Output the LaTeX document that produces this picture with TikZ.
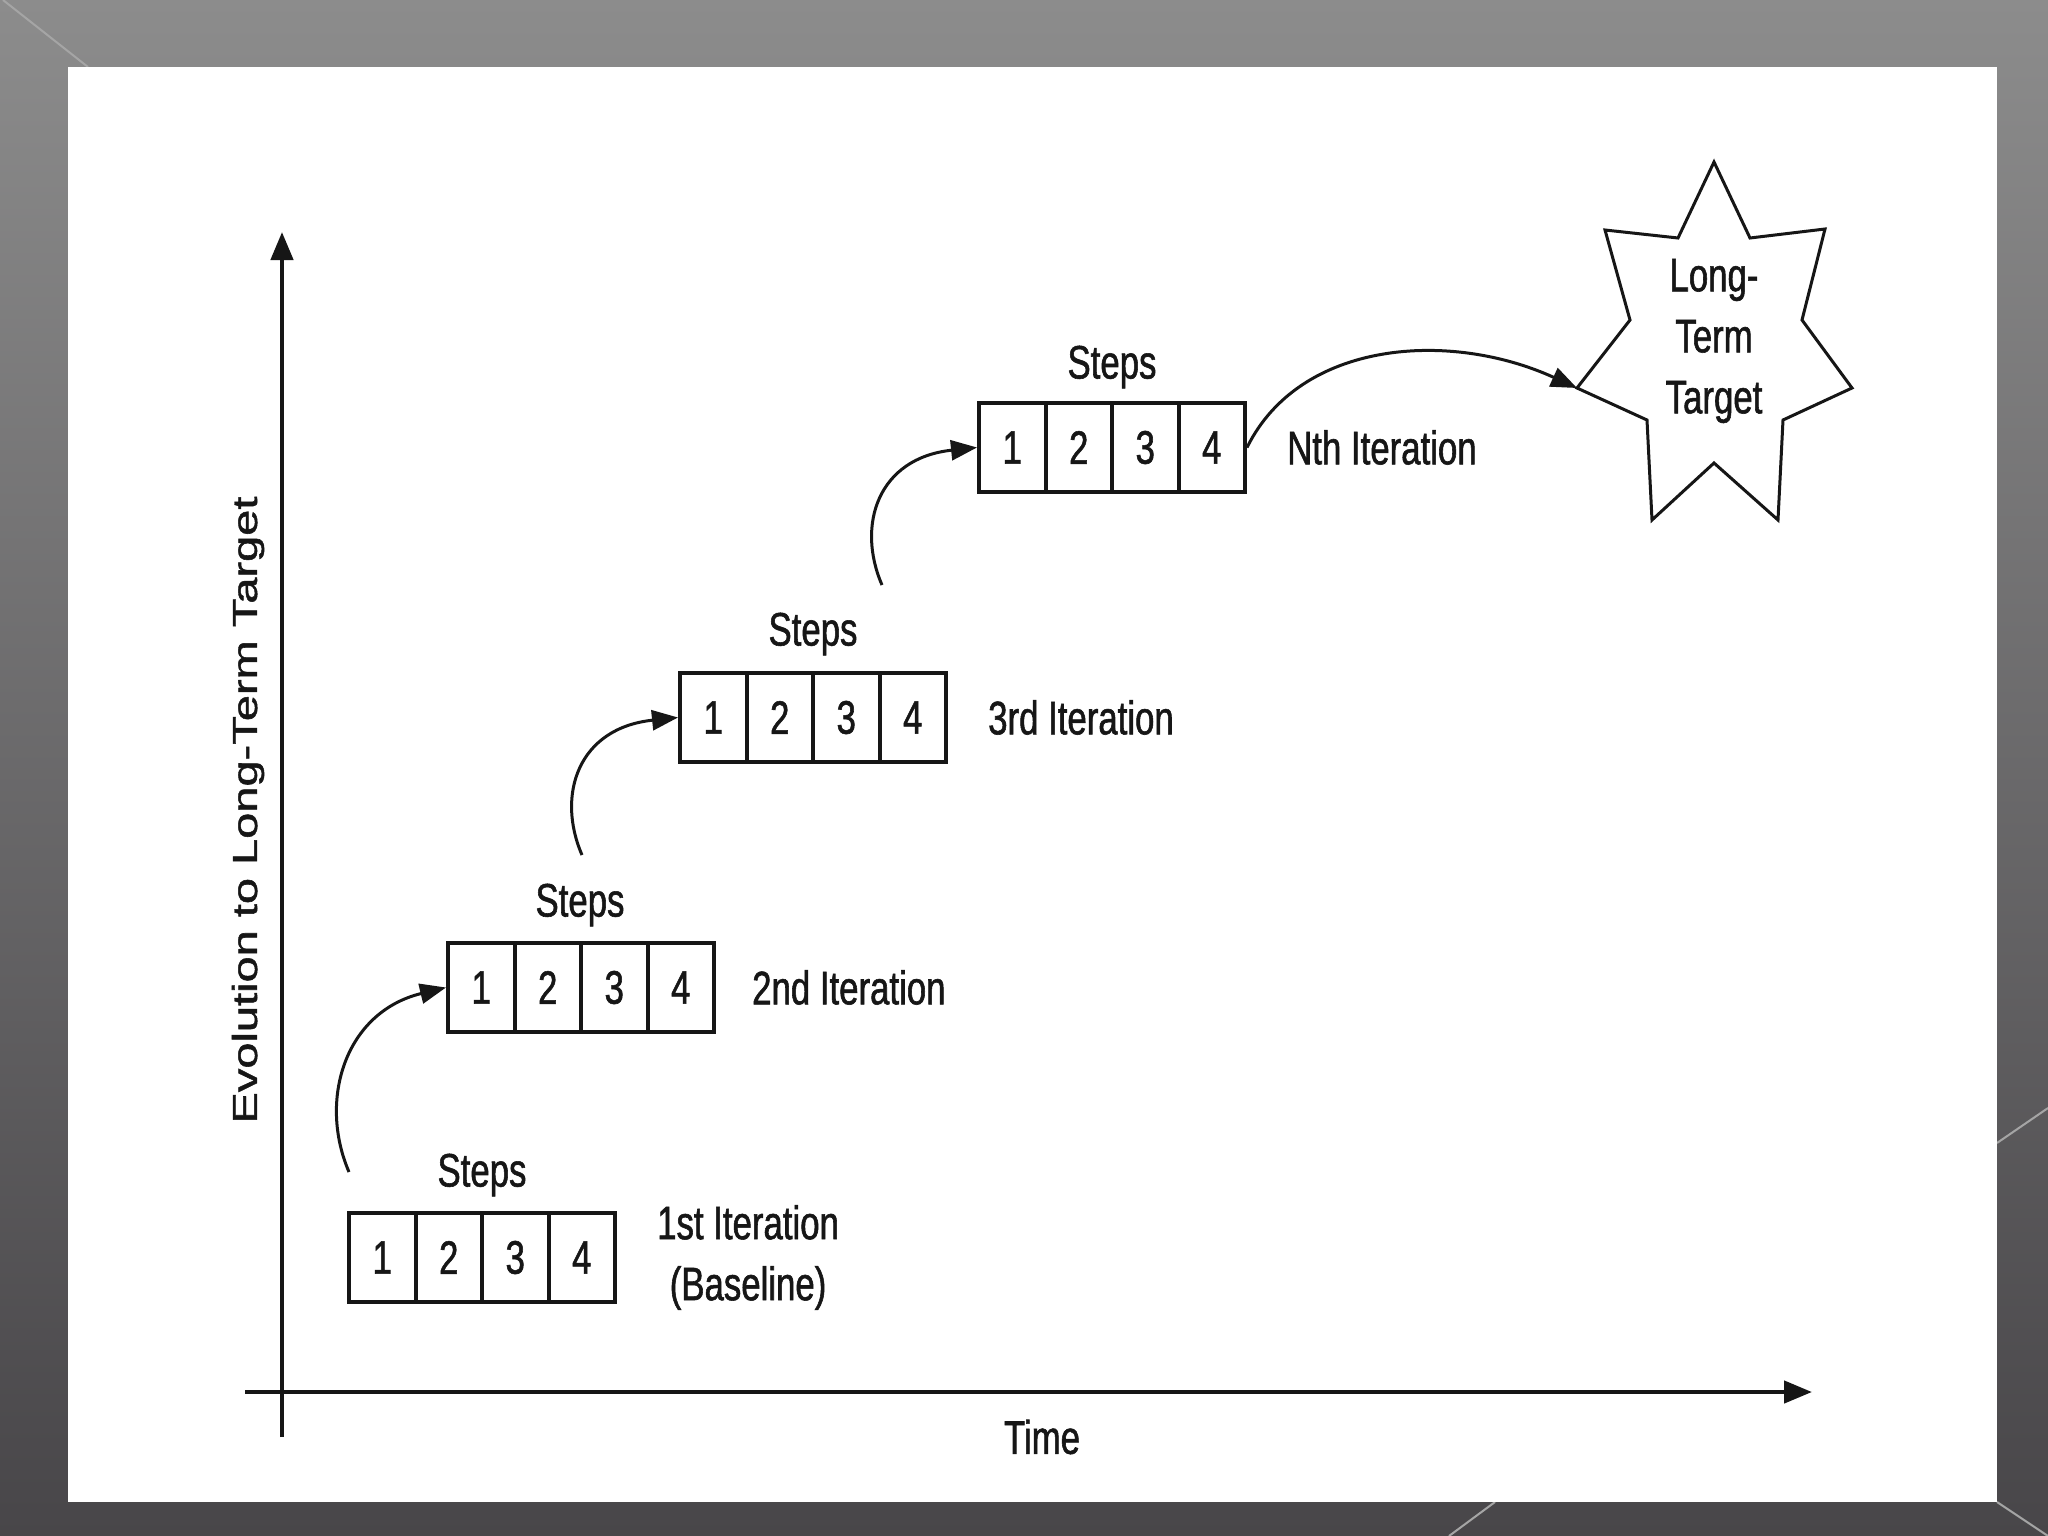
\documentclass[tikz,border=0pt]{standalone}
\usepackage{fontspec}
\setmainfont{Liberation Sans}[FakeStretch=0.74,FakeBold=1.2]
\newfontfamily\plainfont{Liberation Sans}[FakeBold=1.2]
\usetikzlibrary{arrows.meta}
\definecolor{bgtop}{RGB}{140,140,140}
\definecolor{bgbot}{RGB}{72,70,73}
\definecolor{decogray}{RGB}{165,165,165}
\definecolor{ink}{RGB}{22,22,22}
\begin{document}
\begin{tikzpicture}[x=1pt,y=-1pt,
  lbl/.style={font=\fontsize{47pt}{58pt}\selectfont, inner sep=0pt, text=ink},
  cellbox/.style={draw=ink, line width=4pt, minimum width=66.5pt, minimum height=89pt,
    inner sep=0pt, fill=white, text=ink, font=\fontsize{47pt}{58pt}\selectfont},
  axisline/.style={draw=ink, line width=4.5pt, -{Triangle[length=28pt,width=22pt]}},
  curvearrow/.style={draw=ink, line width=3pt, -{Triangle[length=26pt,width=20pt]}},
  decoline/.style={draw=decogray, line width=2pt},
  starshape/.style={draw=ink, line width=3pt, fill=white, line join=miter}]
\useasboundingbox (0,0) rectangle (2048,1536);
% background
\shade[top color=bgtop, bottom color=bgbot] (0,0) rectangle (2048,1536);
\draw[decoline] (3,0) -- (88,67);
\draw[decoline] (1997,1143) -- (2048,1108);
\draw[decoline] (1997,1502) -- (2048,1536);
\draw[decoline] (1495,1502) -- (1449,1536);
\fill[white] (68,67) rectangle (1997,1502);

% axes
\coordinate (yb) at (282,1437);
\coordinate (yt) at (282,232);
\coordinate (xl) at (245,1392);
\coordinate (xr) at (1812,1392);
\draw[axisline] (yb) -- (yt);
\draw[axisline] (xl) -- (xr);
\node[lbl] (ylab) at (248,810) {\rotatebox{90}{\scalebox{1}[0.74]{\plainfont Evolution to Long-Term Target}}};
\node[lbl] (time) at (1042,1437) {Time};

% step boxes
\foreach \r/\x/\y in {1/349/1213, 2/448/943, 3/680/673, 4/979/403} {
  \foreach \c in {1,...,4} {
    \node[cellbox] (r\r-\c) at ({\x+66.5*(\c-0.5)}, {\y+44.5}) {\c};
  }
}

% Steps labels
\node[lbl] (s1) at (482,1175) {Steps};
\node[lbl] (s2) at (580,905) {Steps};
\node[lbl] (s3) at (813,634) {Steps};
\node[lbl] (s4) at (1112,367) {Steps};

% iteration labels
\node[lbl, anchor=west, align=center, font=\fontsize{47pt}{61pt}\selectfont] (it1) at ([xshift=40pt]r1-4.east) {1st Iteration\\(Baseline)};
\node[lbl, anchor=west] (it2) at ([xshift=36pt]r2-4.east) {2nd Iteration};
\node[lbl, anchor=west] (it3) at ([xshift=40pt]r3-4.east) {3rd Iteration};
\node[lbl, anchor=west] (it4) at ([xshift=40pt]r4-4.east) {Nth Iteration};

% star
\draw[starshape] (1714,162) -- (1750,238) -- (1825,229) -- (1802,320) -- (1852,388)
  -- (1783,420) -- (1778,520) -- (1714,463) -- (1652,520) -- (1647,420)
  -- (1577,388) -- (1630,320) -- (1605,230) -- (1678,238) -- cycle;
\coordinate (starL) at (1577,388);
\node[lbl, align=center, font=\fontsize{47pt}{61pt}\selectfont] (target) at (1714,341) {Long-\\Term\\Target};

% curved arrows
\coordinate (a1s) at (349,1172);
\coordinate (a2s) at (582,855);
\coordinate (a3s) at (882,585);
\draw[curvearrow] (a1s) .. controls (318,1100) and (345,1012) .. (r2-1.west);
\draw[curvearrow] (a2s) .. controls (556,795) and (578,728) .. (r3-1.west);
\draw[curvearrow] (a3s) .. controls (856,525) and (878,458) .. (r4-1.west);
\draw[curvearrow] (r4-4.east) .. controls (1300,340) and (1450,330) .. (starL);
\end{tikzpicture}
\end{document}
